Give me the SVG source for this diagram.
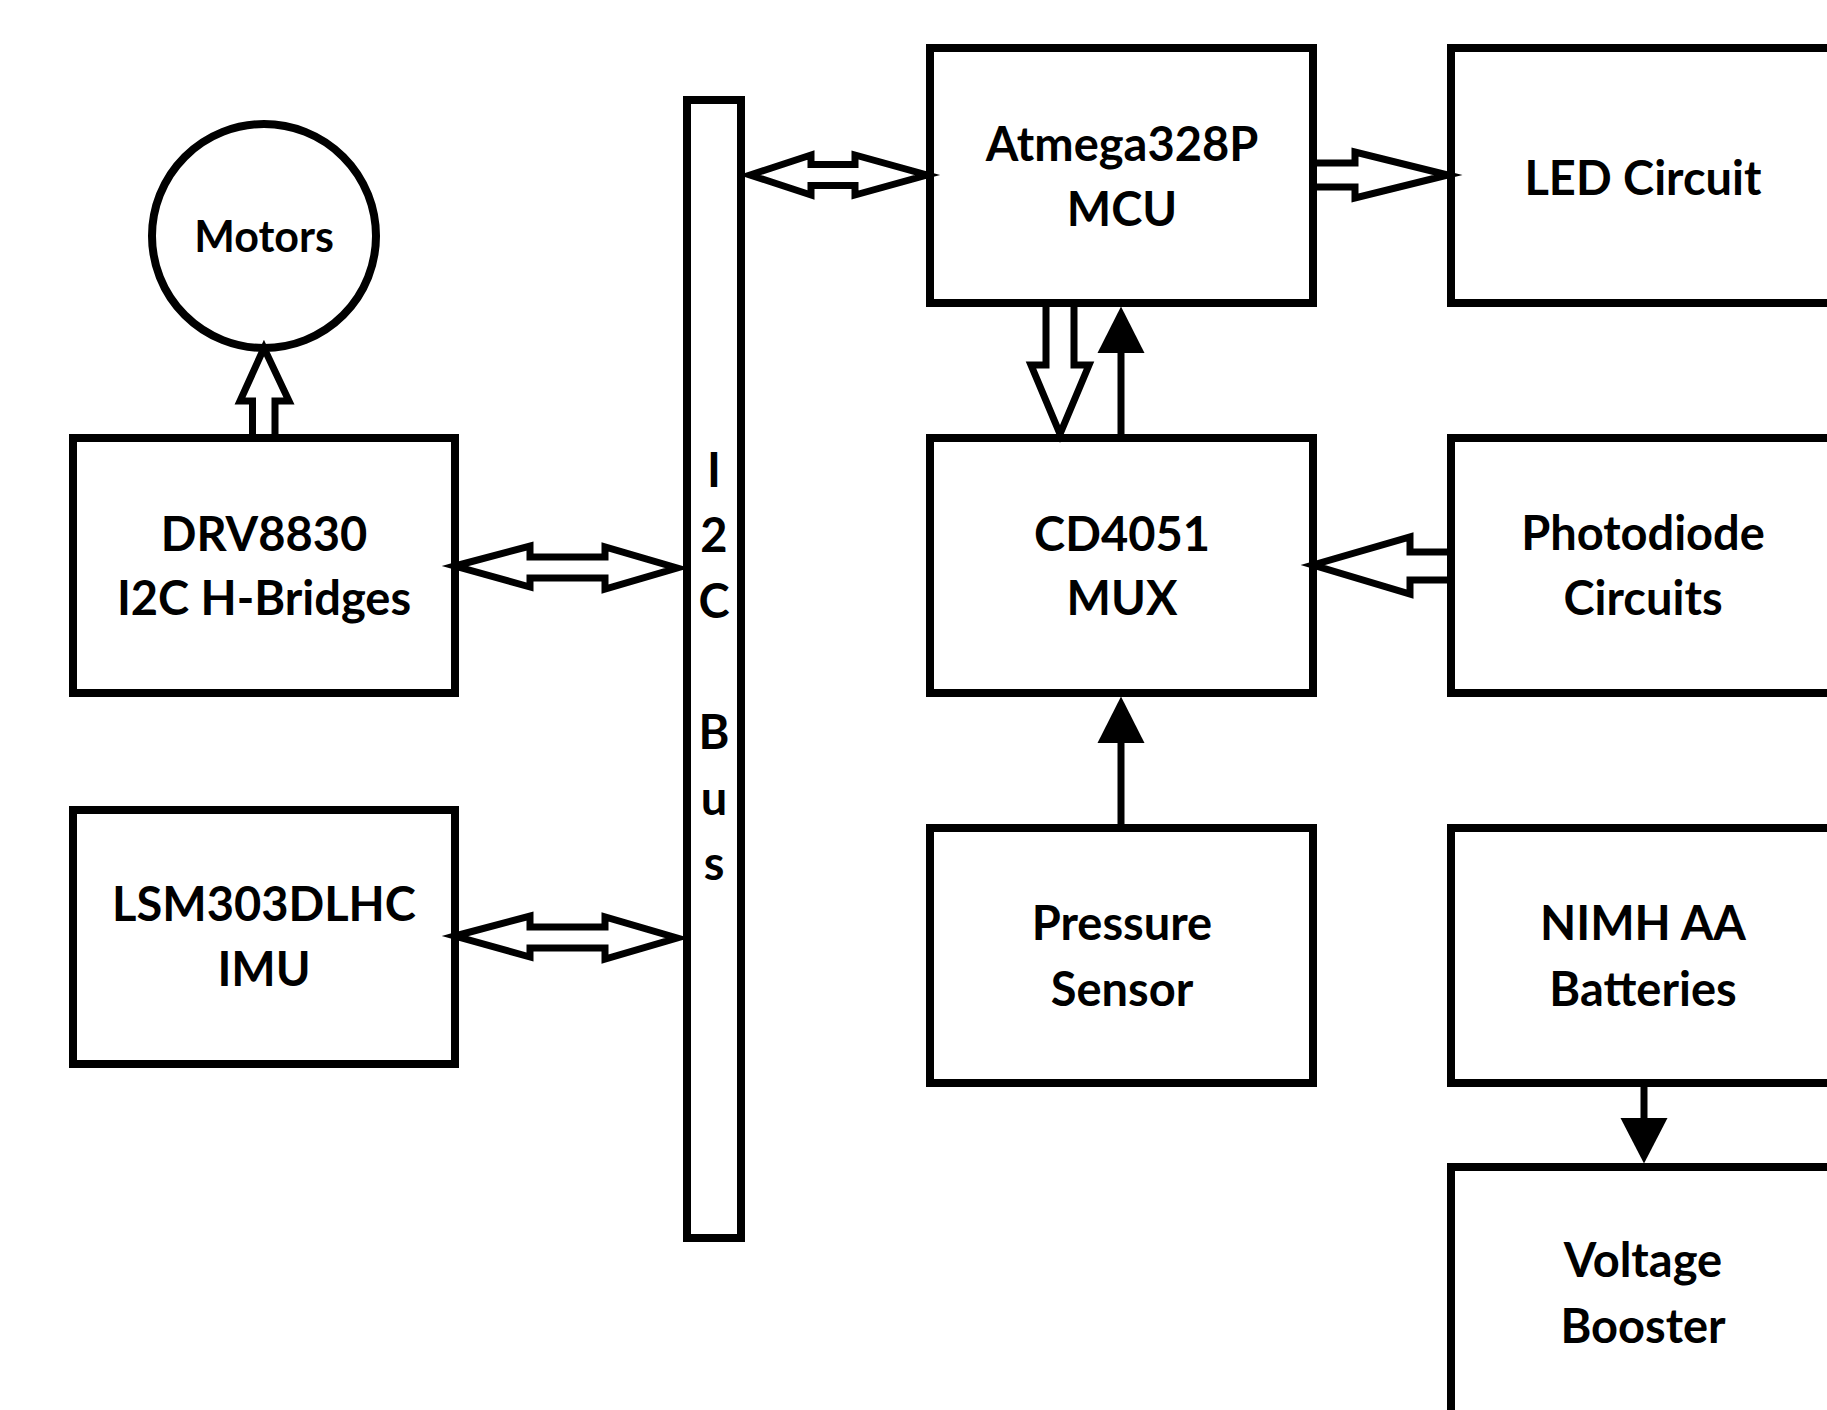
<svg xmlns="http://www.w3.org/2000/svg" width="1827" height="1410" viewBox="0 0 1827 1410">
<style>
.box{fill:#fff;stroke:#000;stroke-width:8}
.ha{fill:#fff;stroke:#000;stroke-width:7;stroke-linejoin:miter;stroke-miterlimit:10}
.ln{fill:none;stroke:#000;stroke-width:7}
.hd{fill:#000;stroke:none}
text{font-family:Lato,"Liberation Sans",sans-serif;font-weight:700;font-size:47px;fill:#000;text-anchor:middle}
.sm{font-size:43px}
</style>
<rect width="1827" height="1410" fill="#fff"/>
<g id="nodes">
<g id="motors"><circle class="box" cx="264" cy="236" r="112"/><text class="sm" x="264" y="252">Motors</text></g>
<g id="drv8830"><rect class="box" x="73" y="438" width="382" height="255"/><text x="264" y="551">DRV8830</text><text x="264" y="615">I2C H-Bridges</text></g>
<g id="lsm303"><rect class="box" x="73" y="810" width="382" height="254"/><text x="264" y="921">LSM303DLHC</text><text x="264" y="986">IMU</text></g>
<g id="i2cbus"><rect class="box" x="687" y="100" width="54" height="1138"/>
<text x="714" y="487">I</text><text x="714" y="552">2</text><text x="714" y="618">C</text><text x="714" y="749">B</text><text x="714" y="815">u</text><text x="714" y="880">s</text></g>
<g id="atmega"><rect class="box" x="930" y="48" width="383" height="255"/><text x="1122" y="161">Atmega328P</text><text x="1122" y="226">MCU</text></g>
<g id="led"><rect class="box" x="1451" y="48" width="383" height="255"/><text x="1643" y="195">LED Circuit</text></g>
<g id="mux"><rect class="box" x="930" y="438" width="383" height="255"/><text x="1122" y="551">CD4051</text><text x="1122" y="615">MUX</text></g>
<g id="photodiode"><rect class="box" x="1451" y="438" width="383" height="255"/><text x="1643" y="550">Photodiode</text><text x="1643" y="615">Circuits</text></g>
<g id="pressure"><rect class="box" x="930" y="828" width="383" height="255"/><text x="1122" y="940">Pressure</text><text x="1122" y="1006">Sensor</text></g>
<g id="nimh"><rect class="box" x="1451" y="828" width="383" height="255"/><text x="1643" y="940">NIMH AA</text><text x="1643" y="1006">Batteries</text></g>
<g id="booster"><rect class="box" x="1451" y="1167" width="383" height="255"/><text x="1643" y="1277">Voltage</text><text x="1643" y="1343">Booster</text></g>
</g>
<g id="connectors">
<polygon class="ha" points="750,175 811,155 811,164.5 855,164.5 855,155 927,175 855,195 855,185.5 811,185.5 811,195"/>
<polygon class="ha" points="455,566 530,546 530,557 605,557 605,547 677,568 605,589 605,578 530,578 530,587"/>
<polygon class="ha" points="455,936 530,916 530,927 605,927 605,917 677,938 605,959 605,948 530,948 530,957"/>
<path class="ha" d="M1317,163 H1355 V152 L1448,175 L1355,198 V187 H1317"/>
<path class="ha" d="M1447,552 H1410 V537 L1313,565 L1410,594 V580 H1447"/>
<path class="ha" d="M1046,307 V365 H1031 L1060,434 L1089,365 H1074 V307"/>
<path class="ha" d="M252.5,434 V401 H240 L264,348 L289,401 H275 V434"/>
<line class="ln" x1="1121" y1="434" x2="1121" y2="350"/>
<polygon class="hd" points="1121,306.5 1097.5,353 1144.5,353"/>
<line class="ln" x1="1121" y1="824" x2="1121" y2="741"/>
<polygon class="hd" points="1121,696.5 1097.5,743 1144.5,743"/>
<line class="ln" x1="1644" y1="1087" x2="1644" y2="1120"/>
<polygon class="hd" points="1644,1163.5 1620.5,1118 1667.5,1118"/>
</g>
</svg>
